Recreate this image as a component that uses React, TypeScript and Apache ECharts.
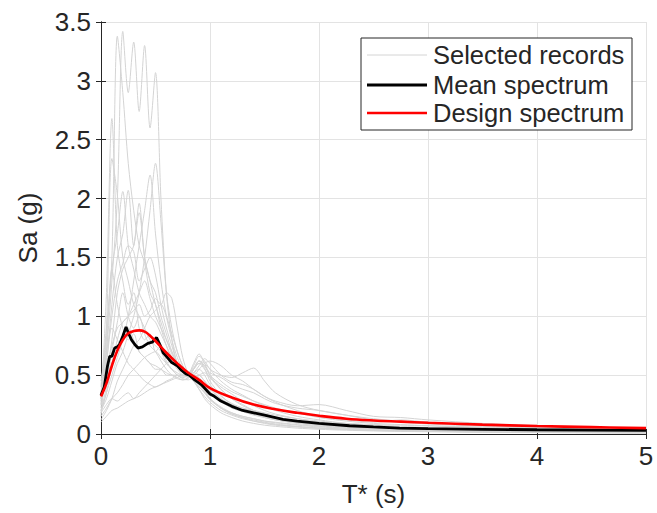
import React, { useEffect, useRef } from "react";
import * as echarts from "echarts";

// Period grid shared by the selected records (s)
const T = [0, 0.05, 0.1, 0.15, 0.2, 0.25, 0.3, 0.35, 0.4, 0.45, 0.5, 0.55, 0.6, 0.65, 0.7, 0.75, 0.8, 0.85, 0.9, 0.95, 1.0, 1.1, 1.2, 1.3, 1.4, 1.5, 1.6, 1.8, 2.0, 2.25, 2.5, 2.75, 3.0, 3.5, 4.0, 4.5, 5.0];

// Selected records Sa (g)
const r01 = [0.35, 0.8, 1.5, 3.38, 2.9, 2.3, 1.9, 1.6, 1.45, 1.2, 1.1, 0.9, 0.75, 0.62, 0.55, 0.5, 0.49, 0.55, 0.62, 0.56, 0.45, 0.33, 0.25, 0.2, 0.17, 0.14, 0.12, 0.09, 0.07, 0.055, 0.045, 0.038, 0.032, 0.025, 0.02, 0.017, 0.014];
const r02 = [0.3, 0.7, 1.3, 2.0, 3.42, 2.9, 3.33, 2.74, 3.3, 2.6, 3.07, 2.0, 1.2, 0.8, 0.6, 0.52, 0.48, 0.5, 0.45, 0.38, 0.3, 0.22, 0.17, 0.14, 0.12, 0.1, 0.085, 0.065, 0.05, 0.04, 0.033, 0.028, 0.024, 0.018, 0.014, 0.012, 0.01];
const r03 = [0.25, 1.2, 2.68, 1.6, 1.3, 1.1, 1.2, 0.9, 0.8, 0.85, 0.7, 0.75, 0.62, 0.55, 0.5, 0.48, 0.5, 0.6, 0.68, 0.6, 0.5, 0.38, 0.3, 0.25, 0.2, 0.17, 0.14, 0.11, 0.09, 0.07, 0.055, 0.045, 0.04, 0.03, 0.024, 0.02, 0.017];
const r04 = [0.2, 0.3, 0.45, 0.6, 0.7, 0.85, 1.0, 1.2, 1.5, 1.9, 2.3, 1.8, 1.2, 0.9, 0.7, 0.58, 0.5, 0.45, 0.4, 0.35, 0.3, 0.22, 0.18, 0.15, 0.13, 0.11, 0.1, 0.08, 0.065, 0.05, 0.042, 0.036, 0.03, 0.024, 0.02, 0.016, 0.013];
const r05 = [0.18, 0.35, 0.5, 0.65, 0.8, 1.0, 1.3, 1.6, 1.9, 2.2, 1.7, 1.3, 1.0, 0.8, 0.65, 0.55, 0.5, 0.52, 0.55, 0.5, 0.42, 0.32, 0.26, 0.22, 0.19, 0.16, 0.13, 0.1, 0.08, 0.06, 0.05, 0.042, 0.036, 0.028, 0.022, 0.018, 0.015];
const r06 = [0.4, 0.9, 1.4, 1.7, 2.06, 1.6, 1.4, 1.2, 1.1, 1.0, 0.95, 0.85, 0.75, 0.65, 0.57, 0.52, 0.5, 0.58, 0.66, 0.62, 0.55, 0.45, 0.38, 0.33, 0.28, 0.24, 0.2, 0.15, 0.12, 0.09, 0.075, 0.065, 0.055, 0.042, 0.034, 0.028, 0.024];
const r07 = [0.3, 0.9, 2.34, 2.03, 1.5, 1.3, 1.1, 1.0, 0.9, 0.8, 0.75, 0.7, 0.6, 0.55, 0.5, 0.47, 0.46, 0.48, 0.5, 0.45, 0.4, 0.3, 0.24, 0.2, 0.17, 0.15, 0.13, 0.1, 0.08, 0.065, 0.052, 0.044, 0.038, 0.03, 0.025, 0.02, 0.017];
const r08 = [0.22, 0.6, 1.1, 1.5, 1.7, 2.07, 1.6, 1.96, 1.5, 1.3, 1.2, 1.0, 0.85, 0.7, 0.6, 0.55, 0.52, 0.55, 0.6, 0.58, 0.52, 0.48, 0.42, 0.38, 0.35, 0.3, 0.26, 0.22, 0.2, 0.16, 0.12, 0.1, 0.085, 0.065, 0.05, 0.04, 0.034];
const r09 = [0.28, 0.5, 0.8, 1.2, 1.4, 1.5, 1.6, 1.88, 1.5, 1.3, 1.1, 0.95, 0.8, 0.68, 0.6, 0.53, 0.5, 0.5, 0.48, 0.42, 0.36, 0.28, 0.22, 0.19, 0.16, 0.14, 0.12, 0.095, 0.075, 0.06, 0.05, 0.042, 0.036, 0.028, 0.022, 0.018, 0.015];
const r10 = [0.3, 0.6, 1.0, 1.3, 1.45, 1.6, 1.55, 1.3, 1.4, 1.5, 1.35, 1.1, 0.9, 0.75, 0.6, 0.52, 0.5, 0.55, 0.62, 0.6, 0.55, 0.5, 0.48, 0.52, 0.56, 0.45, 0.35, 0.25, 0.2, 0.16, 0.13, 0.11, 0.1, 0.075, 0.06, 0.05, 0.042];
const r11 = [0.15, 0.7, 1.4, 1.1, 0.9, 0.8, 0.85, 0.7, 0.65, 0.6, 0.55, 0.55, 0.5, 0.5, 0.48, 0.46, 0.47, 0.55, 0.62, 0.58, 0.5, 0.42, 0.36, 0.32, 0.28, 0.25, 0.22, 0.18, 0.14, 0.11, 0.09, 0.08, 0.07, 0.055, 0.045, 0.038, 0.032];
const r12 = [0.2, 0.35, 0.6, 0.8, 0.95, 1.0, 1.1, 1.2, 1.3, 1.15, 1.0, 0.9, 0.8, 0.7, 0.6, 0.54, 0.5, 0.45, 0.38, 0.32, 0.27, 0.2, 0.16, 0.13, 0.11, 0.095, 0.08, 0.062, 0.05, 0.04, 0.032, 0.027, 0.023, 0.018, 0.014, 0.012, 0.01];
const r13 = [0.12, 0.2, 0.3, 0.45, 0.55, 0.65, 0.75, 0.8, 0.9, 1.0, 1.05, 1.1, 1.0, 0.85, 0.7, 0.58, 0.5, 0.47, 0.5, 0.52, 0.48, 0.4, 0.34, 0.28, 0.24, 0.2, 0.17, 0.13, 0.1, 0.08, 0.065, 0.055, 0.048, 0.038, 0.03, 0.025, 0.02];
const r14 = [0.25, 0.45, 0.6, 0.7, 0.85, 0.9, 0.8, 0.7, 0.65, 0.6, 0.58, 0.55, 0.52, 0.5, 0.5, 0.49, 0.5, 0.48, 0.42, 0.36, 0.3, 0.23, 0.18, 0.15, 0.13, 0.11, 0.095, 0.075, 0.06, 0.048, 0.04, 0.034, 0.03, 0.024, 0.019, 0.016, 0.013];
const r15 = [0.15, 0.22, 0.3, 0.35, 0.42, 0.5, 0.55, 0.6, 0.65, 0.68, 0.7, 0.65, 0.6, 0.55, 0.52, 0.5, 0.5, 0.52, 0.5, 0.45, 0.38, 0.3, 0.25, 0.22, 0.2, 0.18, 0.16, 0.13, 0.11, 0.09, 0.08, 0.075, 0.07, 0.055, 0.045, 0.038, 0.032];
const r16 = [0.1, 0.15, 0.2, 0.22, 0.25, 0.28, 0.3, 0.32, 0.35, 0.38, 0.4, 0.42, 0.45, 0.47, 0.5, 0.5, 0.52, 0.56, 0.6, 0.55, 0.48, 0.38, 0.3, 0.24, 0.2, 0.17, 0.14, 0.11, 0.09, 0.07, 0.058, 0.05, 0.045, 0.035, 0.028, 0.023, 0.02];
const r17 = [0.18, 0.25, 0.3, 0.28, 0.32, 0.35, 0.3, 0.35, 0.4, 0.45, 0.5, 0.55, 0.6, 0.62, 0.6, 0.56, 0.52, 0.45, 0.38, 0.3, 0.25, 0.18, 0.14, 0.11, 0.09, 0.075, 0.065, 0.05, 0.04, 0.032, 0.026, 0.022, 0.019, 0.015, 0.012, 0.01, 0.008];
const r18 = [0.35, 0.55, 0.75, 0.9, 0.95, 1.0, 1.05, 1.1, 1.0, 1.05, 1.15, 1.1, 1.2, 1.15, 0.9, 0.65, 0.52, 0.5, 0.55, 0.6, 0.62, 0.58, 0.5, 0.45, 0.38, 0.32, 0.28, 0.24, 0.25, 0.2, 0.15, 0.14, 0.12, 0.09, 0.07, 0.055, 0.045];
const r19 = [0.2, 0.4, 0.7, 0.95, 1.2, 1.0, 0.9, 1.0, 0.85, 0.75, 0.7, 0.62, 0.55, 0.5, 0.47, 0.46, 0.48, 0.52, 0.58, 0.64, 0.6, 0.5, 0.44, 0.42, 0.38, 0.32, 0.27, 0.2, 0.15, 0.12, 0.1, 0.12, 0.1, 0.07, 0.055, 0.045, 0.038];
const r20 = [0.45, 0.7, 0.9, 0.8, 0.7, 0.6, 0.55, 0.5, 0.45, 0.42, 0.4, 0.42, 0.44, 0.46, 0.48, 0.5, 0.5, 0.45, 0.4, 0.35, 0.29, 0.22, 0.17, 0.14, 0.11, 0.09, 0.075, 0.06, 0.048, 0.038, 0.03, 0.026, 0.022, 0.017, 0.013, 0.011, 0.009];
const records = [r01, r02, r03, r04, r05, r06, r07, r08, r09, r10, r11, r12, r13, r14, r15, r16, r17, r18, r19, r20];

// Mean spectrum
const meanT = [0, 0.03, 0.06, 0.08, 0.1, 0.125, 0.15, 0.17, 0.2, 0.23, 0.25, 0.28, 0.31, 0.34, 0.38, 0.43, 0.47, 0.51, 0.54, 0.57, 0.6, 0.645, 0.7, 0.74, 0.78, 0.81, 0.86, 0.92, 1.0, 1.04, 1.1, 1.2, 1.3, 1.4, 1.5, 1.67, 1.8, 2.0, 2.28, 2.5, 2.74, 3.0, 3.5, 4.0, 4.5, 5.0];
const meanSa = [0.33, 0.4, 0.58, 0.66, 0.66, 0.73, 0.74, 0.76, 0.83, 0.91, 0.86, 0.8, 0.76, 0.73, 0.74, 0.77, 0.78, 0.82, 0.76, 0.69, 0.66, 0.61, 0.58, 0.54, 0.51, 0.5, 0.46, 0.42, 0.34, 0.32, 0.28, 0.235, 0.2, 0.18, 0.16, 0.125, 0.11, 0.09, 0.07, 0.06, 0.05, 0.045, 0.04, 0.036, 0.033, 0.03];

// Design spectrum
const designT = [0, 0.05, 0.1, 0.15, 0.2, 0.25, 0.3, 0.35, 0.4, 0.45, 0.5, 0.6, 0.7, 0.8, 0.9, 1.0, 1.2, 1.4, 1.6, 1.8, 2.0, 2.25, 2.5, 2.75, 3.0, 3.5, 4.0, 4.5, 5.0];
const designSa = [0.32, 0.43, 0.58, 0.71, 0.8, 0.855, 0.875, 0.88, 0.87, 0.835, 0.79, 0.69, 0.6, 0.52, 0.46, 0.39, 0.31, 0.25, 0.21, 0.18, 0.155, 0.13, 0.115, 0.105, 0.095, 0.08, 0.068, 0.058, 0.05];

const xTicks = [0, 1, 2, 3, 4, 5];
const yTicks = [0, 0.5, 1, 1.5, 2, 2.5, 3, 3.5];
const legendNames = ["Selected records", "Mean spectrum", "Design spectrum"];

const FONT = "'Liberation Sans', Arial, Helvetica, sans-serif";
const TXT = "#262626";

export default function App() {
  const ref = useRef<HTMLDivElement>(null);
  useEffect(() => {
    if (!ref.current) return;
    const chart = echarts.init(ref.current, undefined, { renderer: "svg" });
    const grayColor = "#d4d4d4";
    const series: any[] = records.map((r) => ({
      type: "line",
      name: legendNames[0],
      data: T.map((t, i) => [t, r[i]]),
      showSymbol: false,
      smooth: 0.3,
      lineStyle: { color: grayColor, width: 1 },
      z: 2,
      silent: true,
    }));
    series.push({
      type: "line",
      name: legendNames[1],
      data: meanT.map((t, i) => [t, meanSa[i]]),
      showSymbol: false,
      lineStyle: { color: "#000000", width: 2.8 },
      z: 3,
    });
    series.push({
      type: "line",
      name: legendNames[2],
      data: designT.map((t, i) => [t, designSa[i]]),
      showSymbol: false,
      smooth: 0.4,
      lineStyle: { color: "#ff0000", width: 2.6 },
      z: 4,
    });

    const axisLine = { show: true, lineStyle: { color: TXT, width: 1 } };
    const splitLine = { show: true, lineStyle: { color: "#e3e3e3", width: 1 } };
    const tick = { show: true, inside: true, length: 5, lineStyle: { color: TXT } };

    const lx = 361, ly = 38, lw = 271, lh = 92;
    const rows = [55, 85, 113];
    const colors = ["#d4d4d4", "#000000", "#ff0000"];
    const widths = [1, 2.8, 2.6];
    const legendEls: any[] = [
      { type: "rect", shape: { x: lx, y: ly, width: lw, height: lh }, style: { fill: "#ffffff", stroke: TXT, lineWidth: 1 }, z: 100 },
    ];
    legendNames.forEach((n, i) => {
      legendEls.push({ type: "line", shape: { x1: 367, y1: rows[i], x2: 427, y2: rows[i] }, style: { stroke: colors[i], lineWidth: widths[i] }, z: 101 });
      legendEls.push({ type: "text", x: 433, y: rows[i], style: { text: n, fill: TXT, font: `25.5px ${FONT}`, verticalAlign: "middle" }, z: 101 });
    });

    chart.setOption({
      animation: false,
      backgroundColor: "#ffffff",
      textStyle: { fontFamily: FONT },
      grid: { left: 101, right: 11, top: 22, bottom: 79, containLabel: false },
      xAxis: [
        {
          type: "value", min: xTicks[0], max: xTicks[xTicks.length - 1], interval: 1,
          name: "T* (s)", nameLocation: "middle", nameGap: 47,
          nameTextStyle: { color: TXT, fontSize: 26, fontFamily: FONT },
          axisLine, axisTick: tick, splitLine,
          axisLabel: { color: TXT, fontSize: 26, margin: 9, fontFamily: FONT },
        },
        {
          type: "value", position: "top", min: xTicks[0], max: xTicks[xTicks.length - 1], interval: 1,
          axisLine, axisTick: tick, splitLine: { show: false }, axisLabel: { show: false },
        },
      ],
      yAxis: [
        {
          type: "value", min: yTicks[0], max: yTicks[yTicks.length - 1], interval: 0.5,
          name: "Sa (g)", nameLocation: "middle", nameGap: 60,
          nameTextStyle: { color: TXT, fontSize: 26, fontFamily: FONT },
          axisLine, axisTick: tick, splitLine,
          axisLabel: { color: TXT, fontSize: 26, margin: 10, fontFamily: FONT },
        },
        {
          type: "value", position: "right", min: yTicks[0], max: yTicks[yTicks.length - 1], interval: 0.5,
          axisLine, axisTick: tick, splitLine: { show: false }, axisLabel: { show: false },
        },
      ],
      series,
      graphic: legendEls,
    });
    return () => chart.dispose();
  }, []);
  return <div ref={ref} style={{ width: 657, height: 513, position: "absolute", left: 0, top: 0 }} />;
}
